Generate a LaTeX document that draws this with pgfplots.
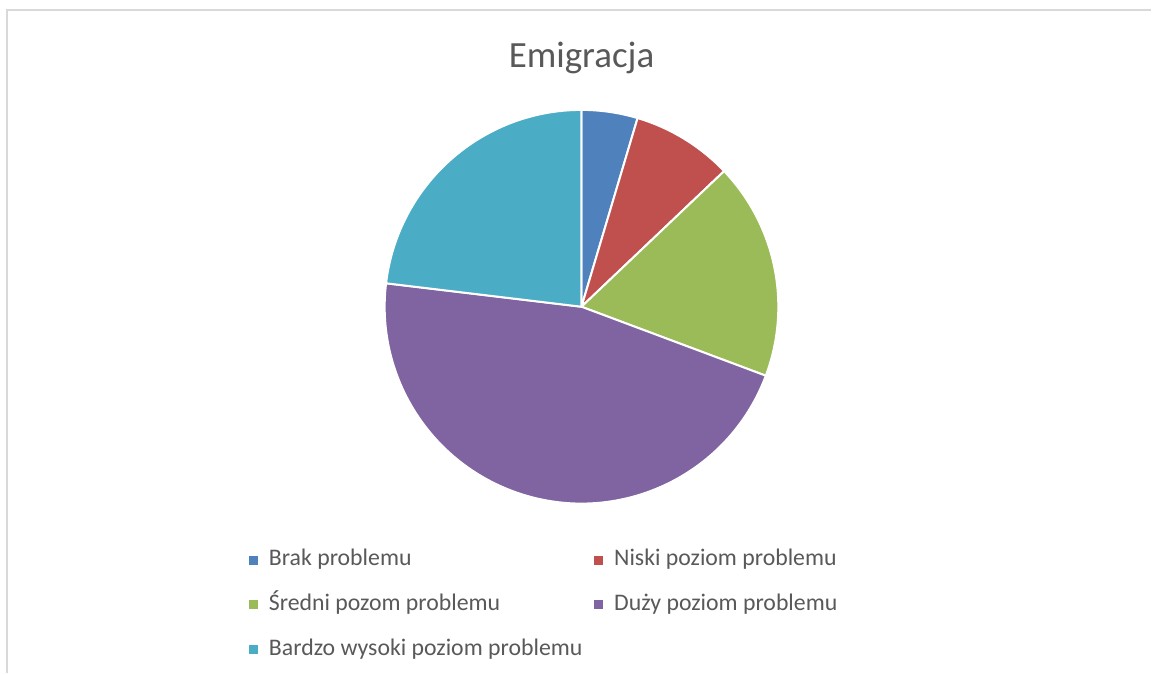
\documentclass[border=0pt]{standalone}
\usepackage{pgfplots}
\usepackage{pgfplotstable}
\usepackage{fontspec}
\setmainfont{Carlito}
\pgfplotsset{compat=1.18}
\definecolor{c1}{HTML}{4F81BD}
\definecolor{c2}{HTML}{C0504D}
\definecolor{c3}{HTML}{9BBB59}
\definecolor{c4}{HTML}{8064A2}
\definecolor{c5}{HTML}{4BACC6}
\definecolor{txt}{HTML}{595959}
\definecolor{frame}{HTML}{D9D9D9}
\pgfplotstableread{
label value
Brak 4.6
Niski 8.3
Sredni 17.8
Duzy 46.2
Bardzo 23.1
}\piedata
\begin{document}
\begin{tikzpicture}
\pgfplotstablegetelem{0}{value}\of\piedata \let\vA\pgfplotsretval
\pgfplotstablegetelem{1}{value}\of\piedata \let\vB\pgfplotsretval
\pgfplotstablegetelem{2}{value}\of\piedata \let\vC\pgfplotsretval
\pgfplotstablegetelem{3}{value}\of\piedata \let\vD\pgfplotsretval
\pgfplotstablegetelem{4}{value}\of\piedata \let\vE\pgfplotsretval
\pgfmathsetmacro{\aA}{90}
\pgfmathsetmacro{\aB}{\aA-3.6*\vA}
\pgfmathsetmacro{\aC}{\aB-3.6*\vB}
\pgfmathsetmacro{\aD}{\aC-3.6*\vC}
\pgfmathsetmacro{\aE}{\aD-3.6*\vD}
\pgfmathsetmacro{\aF}{\aE-3.6*\vE}
\begin{axis}[
  scale only axis, width=576pt, height=337pt,
  xmin=0, xmax=1152, ymin=0, ymax=674,
  hide axis, clip=false,
  legend columns=2,
  legend cell align=left,
  legend image code/.code={\fill[#1] (0pt,-2pt) rectangle (4pt,2pt); \path (7.5pt,0pt);},
  legend style={draw=none, fill=none, text=txt,
    font=\fontsize{11.9}{14}\selectfont,
    at={(axis cs:243,133)}, anchor=north west,
    nodes={inner sep=2pt, text height=8.5pt, text depth=2.5pt},
    /tikz/every even column/.append style={column sep=4pt},
    row sep=7.5pt},
]
\fill[white] (axis cs:0,0) rectangle (axis cs:1152,674);
\draw[frame, line width=1pt] (axis cs:7.5,0) -- (axis cs:7.5,664) -- (axis cs:1152,664);
\addlegendimage{c1}\addlegendentry{Brak problemu}
\addlegendimage{c2}\addlegendentry{Niski poziom problemu}
\addlegendimage{c3}\addlegendentry{Średni pozom problemu}
\addlegendimage{c4}\addlegendentry{Duży poziom problemu}
\addlegendimage{c5}\addlegendentry{Bardzo wysoki poziom problemu}
\fill[c1, draw=white, line width=1pt, line join=round] (axis cs:582,367) -- ++(\aA:98.5pt) arc[start angle=\aA, end angle=\aB, radius=98.5pt] -- cycle;
\fill[c2, draw=white, line width=1pt, line join=round] (axis cs:582,367) -- ++(\aB:98.5pt) arc[start angle=\aB, end angle=\aC, radius=98.5pt] -- cycle;
\fill[c3, draw=white, line width=1pt, line join=round] (axis cs:582,367) -- ++(\aC:98.5pt) arc[start angle=\aC, end angle=\aD, radius=98.5pt] -- cycle;
\fill[c4, draw=white, line width=1pt, line join=round] (axis cs:582,367) -- ++(\aD:98.5pt) arc[start angle=\aD, end angle=\aE, radius=98.5pt] -- cycle;
\fill[c5, draw=white, line width=1pt, line join=round] (axis cs:582,367) -- ++(\aE:98.5pt) arc[start angle=\aE, end angle=\aF, radius=98.5pt] -- cycle;
\node[anchor=base, text=txt, font=\fontsize{18.5}{22}\selectfont] at (axis cs:582,606) {Emigracja};
\end{axis}
\end{tikzpicture}
\end{document}
